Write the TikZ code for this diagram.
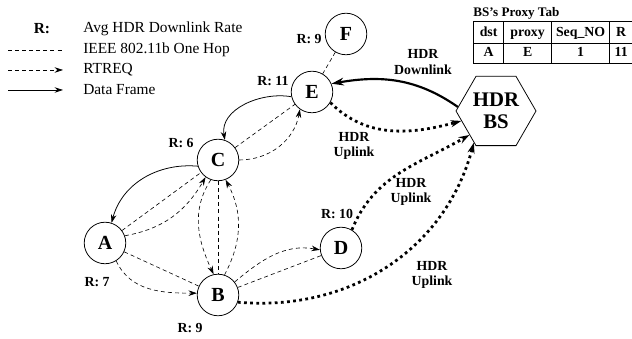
\documentclass[tikz,border=0pt]{standalone}
\usepackage{fontspec}
\setmainfont{Liberation Serif}
\usetikzlibrary{arrows.meta,shapes.geometric,matrix}

\tikzset{
  station/.style={circle,draw,line width=0.5pt,minimum size=27pt,inner sep=0pt,
    font=\fontsize{13}{15}\selectfont\bfseries},
  basestation/.style={regular polygon,regular polygon sides=6,draw,line width=0.5pt,
    minimum size=52pt,inner sep=0pt,align=center,font=\fontsize{13.5}{14}\selectfont\bfseries},
  ratelabel/.style={inner sep=0pt,font=\fontsize{9}{10}\selectfont\bfseries},
  linklabel/.style={inner sep=0pt,align=center,font=\fontsize{9}{10}\selectfont\bfseries},
  legendtext/.style={anchor=west,inner sep=0pt,font=\fontsize{10}{12}\selectfont},
  onehop/.style={line width=0.4pt,dash pattern=on 2.6pt off 2pt},
  rtreq/.style={onehop,-{Stealth[length=5.5pt,width=3.6pt]}},
  dataframe/.style={line width=0.5pt,-{Stealth[length=5.5pt,width=3.6pt]}},
  uplink/.style={line width=1.8pt,dash pattern=on 1.8pt off 2.2pt,-{Stealth[length=7pt,width=4.6pt]}},
  downlink/.style={line width=1.4pt,-{Stealth[length=8pt,width=5pt]}},
}

\begin{document}
\begin{tikzpicture}[x=0.65pt,y=0.65pt]
  \useasboundingbox (0,0) rectangle (632,339);

  % legend
  \node[inner sep=0pt,font=\fontsize{10}{12}\selectfont\bfseries] (legR) at (42,310) {R:};
  \node[legendtext] (legrate) at (83,310) {Avg HDR Downlink Rate};
  \node[legendtext] (leghop) at (83,289) {IEEE 802.11b One Hop};
  \node[legendtext] (legreq) at (83,269) {RTREQ};
  \node[legendtext] (legdata) at (83,249) {Data Frame};
  \coordinate (hopL) at (8,289);  \coordinate (hopR) at (63,289);
  \coordinate (reqL) at (8,269);  \coordinate (reqR) at (63,269);
  \coordinate (dataL) at (8,249); \coordinate (dataR) at (63,249);
  \draw[onehop] (hopL) -- (hopR);
  \draw[rtreq] (reqL) -- (reqR);
  \draw[dataframe] (dataL) -- (dataR);

  % stations
  \node[station] (F) at (346,305) {F};
  \node[station] (E) at (312,247) {E};
  \node[station] (C) at (218,179) {C};
  \node[station] (A) at (105,96) {A};
  \node[station] (B) at (218,44) {B};
  \node[station] (D) at (341,91) {D};
  \node[basestation] (BS) at (496,228) {HDR\\BS};

  \node[ratelabel] (rF) at (309,300) {R: 9};
  \node[ratelabel] (rE) at (273,258) {R: 11};
  \node[ratelabel] (rC) at (181,196) {R: 6};
  \node[ratelabel] (rA) at (97,57) {R: 7};
  \node[ratelabel] (rB) at (190,11) {R: 9};
  \node[ratelabel] (rD) at (337,125) {R: 10};

  % one hop links
  \draw[onehop] (F) -- (E);
  \draw[onehop] (C) -- (E);
  \draw[onehop] (A) -- (C);
  \draw[onehop] (C) -- (B);
  \draw[onehop] (A) -- (B);
  \draw[onehop] (B) -- (D);

  % route requests and data
  \draw[rtreq] (C.east) to[out=0,in=260] (E.235);
  \draw[rtreq] (A.20) to[out=10,in=240] (C.234);
  \draw[rtreq] (C.250) to[out=237,in=115] (B.102);
  \draw[rtreq] (B.72) to[out=62,in=298] (C.291);
  \draw[rtreq] (A.-58) to[out=-65,in=180] (B.175);
  \draw[rtreq] (B.38) to[out=40,in=170] (D.185);
  \draw[dataframe] (E.193) to[out=170,in=100] (C.71);
  \draw[dataframe] (C.197) to[out=175,in=75] (A.72);

  % HDR links
  \draw[downlink] (BS.174) to[out=145,in=10] (E.23);
  \draw[uplink] (E.-30) to[out=-45,in=195] (BS.196);
  \draw[uplink] (D.59) to[out=68,in=210] (BS.222);
  \draw[uplink] (B.-20) to[out=-5,in=255] (BS.235);
  \node[linklabel] (dnlabel) at (423,277) {HDR\\Downlink};
  \node[linklabel] (uplabelE) at (354,193) {HDR\\Uplink};
  \node[linklabel] (uplabelD) at (411,147) {HDR\\Uplink};
  \node[linklabel] (uplabelB) at (432,64) {HDR\\Uplink};

  % proxy table
  \node[anchor=west,inner sep=0pt,font=\fontsize{8.5}{9}\selectfont\bfseries] (tabtitle) at (473,326) {BS's Proxy Tab};
  \matrix (proxytab) [matrix of nodes,anchor=north west,inner sep=0pt,
      column sep=-0.4pt,row sep=-0.4pt,
      nodes={draw,line width=0.4pt,inner sep=0pt,text height=6.3pt,text depth=1.8pt,
        font=\fontsize{9}{10}\selectfont\bfseries},
      row 1/.style={nodes={minimum height=14.3pt}},
      row 2/.style={nodes={minimum height=12.5pt}},
      column 1/.style={nodes={minimum width=19.5pt}},
      column 2/.style={nodes={minimum width=31.2pt}},
      column 3/.style={nodes={minimum width=37.7pt}},
      column 4/.style={nodes={minimum width=15pt}}]
    at (473,318) {
      dst & proxy & Seq\_NO & R \\
      A & E & 1 & 11 \\
    };
\end{tikzpicture}
\end{document}
